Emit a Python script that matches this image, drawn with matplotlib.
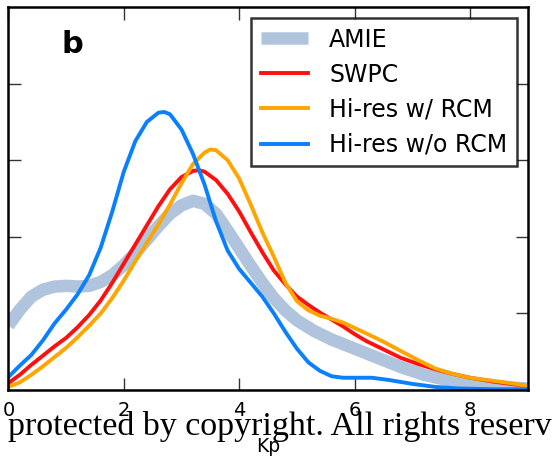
import matplotlib
matplotlib.use("Agg")
import matplotlib.pyplot as plt

# ---- data (probability density of Kp) ----
amie_x = [0.0, 0.2, 0.4, 0.6, 0.8, 1.0, 1.2, 1.4, 1.6, 1.8, 2.0, 2.2, 2.4, 2.6, 2.8, 3.0, 3.2, 3.4, 3.6, 3.8,
          4.0, 4.2, 4.4, 4.6, 4.8, 5.0, 5.3, 5.6, 6.0, 6.4, 6.8, 7.2, 7.6, 8.0, 8.5, 9.0]
amie_y = [0.042, 0.0525, 0.061, 0.0655, 0.0675, 0.068, 0.0675, 0.068, 0.0705, 0.075, 0.0815, 0.0895, 0.098,
          0.107, 0.115, 0.1205, 0.1235, 0.1215, 0.115, 0.104, 0.0925, 0.081, 0.070, 0.060, 0.052, 0.0455,
          0.0385, 0.033, 0.027, 0.021, 0.015, 0.010, 0.0065, 0.004, 0.002, 0.001]

swpc_x = [0.0, 0.2, 0.4, 0.6, 0.8, 1.0, 1.2, 1.4, 1.6, 1.8, 2.0, 2.2, 2.4, 2.6, 2.8, 3.0, 3.2, 3.3, 3.4, 3.6,
          3.8, 4.0, 4.2, 4.4, 4.6, 4.8, 5.0, 5.2, 5.4, 5.6, 5.8, 6.0, 6.2, 6.5, 6.8, 7.1, 7.4, 7.7, 8.0, 8.4,
          8.7, 9.0]
swpc_y = [0.0045, 0.010, 0.0165, 0.0225, 0.0285, 0.034, 0.041, 0.049, 0.0585, 0.070, 0.0825, 0.095, 0.1075,
          0.120, 0.131, 0.139, 0.143, 0.1435, 0.1425, 0.137, 0.128, 0.1165, 0.103, 0.090, 0.078, 0.069,
          0.061, 0.0555, 0.0505, 0.046, 0.0415, 0.0365, 0.032, 0.0265, 0.021, 0.017, 0.0135, 0.0105, 0.008,
          0.0055, 0.004, 0.0025]

rcm_x = [0.0, 0.2, 0.4, 0.6, 0.8, 1.0, 1.2, 1.4, 1.6, 1.8, 2.0, 2.2, 2.4, 2.6, 2.8, 3.0, 3.2, 3.4, 3.5, 3.6,
         3.8, 4.0, 4.2, 4.4, 4.6, 4.8, 5.0, 5.2, 5.4, 5.6, 5.8, 6.0, 6.2, 6.5, 6.8, 7.1, 7.4, 7.7, 8.0, 8.4,
         8.7, 9.0]
rcm_y = [0.002, 0.005, 0.010, 0.0155, 0.0215, 0.0275, 0.0345, 0.042, 0.050, 0.060, 0.0715, 0.084, 0.096,
         0.108, 0.121, 0.135, 0.1475, 0.155, 0.157, 0.1565, 0.150, 0.138, 0.121, 0.103, 0.087, 0.070,
         0.058, 0.052, 0.0485, 0.0465, 0.044, 0.0405, 0.037, 0.0315, 0.0255, 0.0195, 0.014, 0.0105, 0.008,
         0.006, 0.0045, 0.0025]

norcm_x = [0.0, 0.2, 0.4, 0.6, 0.8, 1.0, 1.2, 1.4, 1.6, 1.8, 2.0, 2.2, 2.4, 2.6, 2.7, 2.8, 3.0, 3.2, 3.4, 3.6,
           3.8, 4.0, 4.2, 4.4, 4.6, 4.8, 5.0, 5.2, 5.4, 5.6, 5.8, 6.0, 6.3, 6.6, 7.0, 7.4, 7.8, 8.4, 9.0]
norcm_y = [0.0085, 0.016, 0.023, 0.0325, 0.0435, 0.0525, 0.0625, 0.075, 0.093, 0.1165, 0.1425, 0.1625,
           0.175, 0.181, 0.1815, 0.180, 0.170, 0.154, 0.134, 0.110, 0.091, 0.079, 0.070, 0.061, 0.050,
           0.038, 0.027, 0.018, 0.0125, 0.009, 0.008, 0.008, 0.008, 0.0065, 0.004, 0.002, 0.001, 0.0005,
           0.0005]

labels = ["AMIE", "SWPC", "Hi-res w/ RCM", "Hi-res w/o RCM"]
x_ticks = [0, 2, 4, 6, 8]

fig = plt.figure(figsize=(5.53, 4.62), dpi=100)
ax = fig.add_axes([8.4 / 553, 1 - 390 / 462, (527.7 - 8.4) / 553, (390 - 7) / 462])

ax.plot(amie_x, amie_y, color="#B0C4DE", lw=9, label=labels[0],
        solid_capstyle="butt", solid_joinstyle="round")
ax.plot(swpc_x, swpc_y, color="#FF1010", lw=2.8, label=labels[1], solid_joinstyle="round")
ax.plot(rcm_x, rcm_y, color="#FFA500", lw=2.8, label=labels[2], solid_joinstyle="round")
ax.plot(norcm_x, norcm_y, color="#0A80FF", lw=2.8, label=labels[3], solid_joinstyle="round")

ax.set_xlim(0, 9)
ax.set_ylim(0, 0.25)
ax.set_xticks(x_ticks)
ax.set_xticklabels([str(t) for t in x_ticks])
ax.set_yticks([0.05, 0.10, 0.15, 0.20])
ax.tick_params(axis="both", direction="in", length=9, width=1, top=True, right=True,
               labelsize=14, pad=8, color="#333333")
ax.tick_params(axis="y", labelleft=False)
for s in ax.spines.values():
    s.set_linewidth(1.8)
ax.set_xlabel("Kp", fontsize=13.5, labelpad=12)

ax.text(0.124, 0.903, "b", transform=ax.transAxes, fontsize=22, fontweight="bold",
        ha="center", va="center")

leg = ax.legend(loc="upper right", fontsize=17, frameon=True, fancybox=False,
                handlelength=2.0, handletextpad=0.9, labelspacing=0.47,
                borderpad=0.4, borderaxespad=0.47)
leg.get_frame().set_edgecolor("black")
leg.get_frame().set_linewidth(1.8)

fig.text(8 / 553, 1 - 435 / 462, "protected by copyright. All rights reserved.",
         fontsize=24.5, family="Liberation Serif", ha="left", va="baseline")

fig.savefig("out.png", dpi=100)
